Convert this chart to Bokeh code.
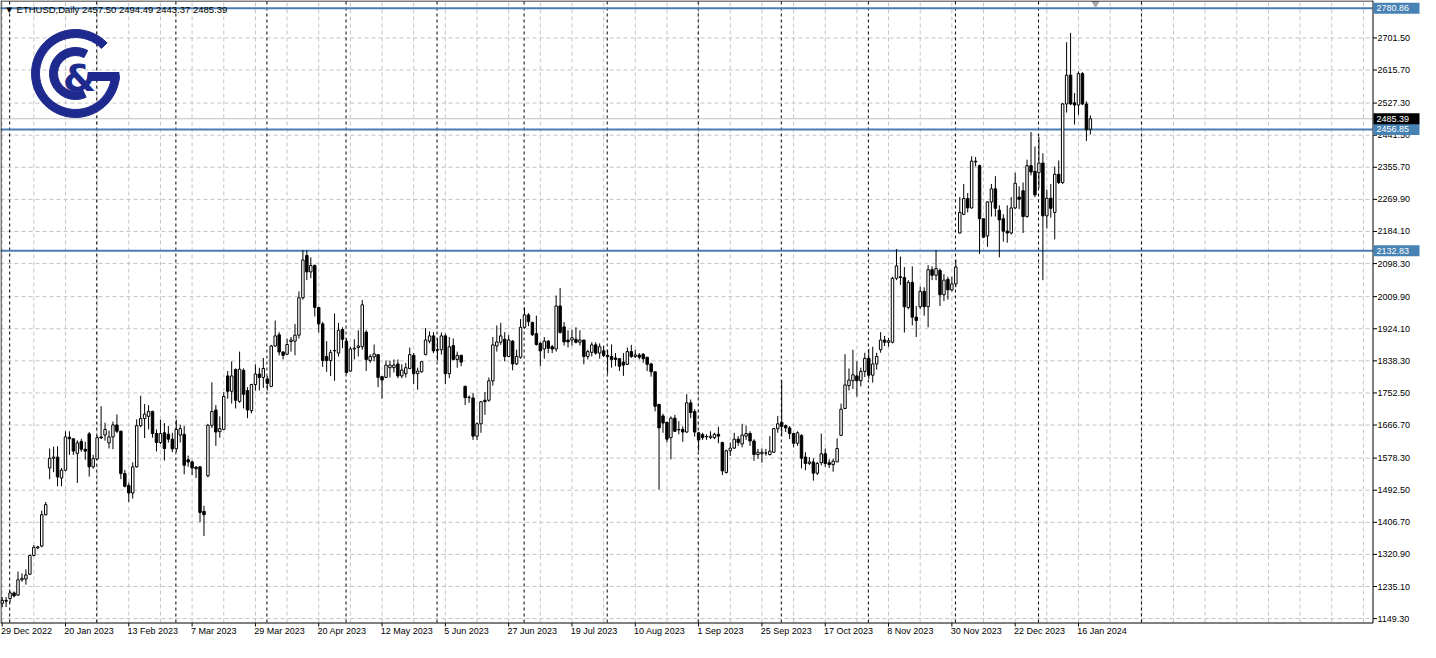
import math
import pandas as pd
from bokeh.plotting import figure
from bokeh.models import Range1d, ColumnDataSource
from bokeh.core.properties import value
from bokeh.embed import file_html
from bokeh.resources import INLINE

symbol = "ETHUSD,Daily"

opens = [
    1190, 1198, 1203, 1218, 1212, 1253, 1255, 1268, 1318, 1338,
    1343, 1427, 1552, 1578, 1581, 1525, 1546, 1634, 1630, 1591,
    1623, 1602, 1643, 1555, 1576, 1635, 1640, 1619, 1635, 1667,
    1650, 1537, 1505, 1485, 1555, 1665, 1684, 1690, 1703, 1644,
    1620, 1646, 1642, 1629, 1603, 1640, 1642, 1574, 1568, 1554,
    1555, 1436, 1531, 1666, 1707, 1649, 1655, 1798, 1757, 1815,
    1730, 1813, 1759, 1705, 1775, 1803, 1794, 1790, 1770, 1878,
    1908, 1862, 1856, 1890, 1891, 1907, 2007, 2120, 2076, 2093,
    1981, 1937, 1850, 1839, 1865, 1859, 1922, 1891, 1811, 1870,
    1874, 1876, 1915, 1839, 1849, 1855, 1796, 1794, 1820, 1820,
    1830, 1798, 1804, 1818, 1853, 1804, 1809, 1855, 1891, 1905,
    1868, 1868, 1905, 1804, 1879, 1842, 1853, 1770, 1741, 1739,
    1637, 1670, 1733, 1733, 1785, 1878, 1888, 1896, 1850, 1891,
    1830, 1848, 1928, 1961, 1941, 1911, 1885, 1870, 1891, 1876,
    1870, 1985, 1929, 1894, 1894, 1896, 1888, 1894, 1850, 1861,
    1881, 1859, 1865, 1853, 1850, 1846, 1844, 1835, 1829, 1863,
    1850, 1854, 1856, 1848, 1830, 1809, 1722, 1691, 1674, 1633,
    1685, 1654, 1655, 1648, 1726, 1703, 1646, 1641, 1636, 1633,
    1633, 1642, 1620, 1540, 1598, 1605, 1629, 1616, 1637, 1644,
    1624, 1588, 1590, 1592, 1588, 1594, 1657, 1674, 1665, 1659,
    1644, 1618, 1639, 1581, 1564, 1568, 1538, 1566, 1590, 1566,
    1561, 1568, 1639, 1711, 1772, 1785, 1798, 1785, 1810, 1845,
    1800, 1830, 1868, 1894, 1888, 1888, 2059, 2063, 2061, 1981,
    2048, 1955, 1983, 2024, 1983, 2082, 2067, 2080, 2015, 2056,
    2028, 2044, 2180, 2230, 2272, 2247, 2370, 2360, 2218, 2172,
    2263, 2298, 2241, 2218, 2185, 2180, 2247, 2276, 2293, 2224,
    2360, 2345, 2341, 2367, 2226, 2273, 2235, 2337, 2315, 2525,
    2602, 2528, 2522, 2606, 2525, 2457.50,
]

highs = [
    1207, 1207, 1223, 1222, 1275, 1270, 1281, 1320, 1346, 1344,
    1438, 1461, 1604, 1609, 1610, 1552, 1650, 1650, 1630, 1626,
    1630, 1622, 1648, 1587, 1639, 1717, 1673, 1652, 1676, 1695,
    1652, 1547, 1513, 1567, 1682, 1745, 1723, 1720, 1705, 1655,
    1681, 1672, 1664, 1646, 1681, 1668, 1664, 1585, 1572, 1557,
    1557, 1451, 1670, 1781, 1720, 1690, 1755, 1811, 1837, 1818,
    1863, 1818, 1768, 1777, 1829, 1820, 1846, 1798, 1881, 1946,
    1915, 1864, 1898, 1902, 1937, 2024, 2134, 2134, 2115, 2096,
    1981, 1942, 1891, 1868, 1965, 1940, 1928, 1898, 1876, 1896,
    1920, 2001, 1920, 1856, 1882, 1856, 1798, 1839, 1839, 1842,
    1842, 1829, 1833, 1874, 1859, 1820, 1837, 1926, 1917, 1915,
    1898, 1914, 1911, 1902, 1898, 1863, 1855, 1772, 1746, 1752,
    1674, 1731, 1755, 1794, 1902, 1933, 1940, 1915, 1907, 1894,
    1868, 1950, 1981, 1966, 1943, 1959, 1889, 1902, 1894, 1881,
    2013, 2033, 1942, 1920, 1922, 1928, 1920, 1894, 1868, 1888,
    1888, 1885, 1879, 1868, 1882, 1859, 1844, 1859, 1874, 1881,
    1868, 1859, 1859, 1848, 1833, 1809, 1722, 1697, 1676, 1690,
    1694, 1677, 1663, 1749, 1735, 1709, 1646, 1646, 1642, 1650,
    1646, 1662, 1622, 1601, 1620, 1646, 1637, 1670, 1665, 1650,
    1629, 1603, 1604, 1603, 1637, 1659, 1691, 1785, 1668, 1664,
    1646, 1650, 1642, 1594, 1581, 1578, 1568, 1644, 1604, 1575,
    1577, 1631, 1724, 1856, 1818, 1868, 1837, 1820, 1860, 1870,
    1876, 1860, 1915, 1905, 1900, 2063, 2137, 2117, 2089, 2054,
    2091, 1985, 2037, 2035, 2094, 2091, 2134, 2085, 2070, 2063,
    2063, 2108, 2276, 2311, 2287, 2385, 2383, 2363, 2220, 2265,
    2311, 2332, 2254, 2230, 2254, 2276, 2341, 2305, 2315, 2376,
    2450, 2411, 2437, 2393, 2296, 2311, 2358, 2374, 2528, 2690,
    2715, 2554, 2612, 2610, 2532, 2494.49,
]

lows = [
    1180, 1180, 1192, 1206, 1210, 1248, 1240, 1266, 1316, 1335,
    1340, 1425, 1522, 1541, 1503, 1503, 1543, 1587, 1587, 1512,
    1595, 1574, 1529, 1550, 1574, 1630, 1625, 1604, 1602, 1645,
    1522, 1500, 1461, 1470, 1553, 1661, 1632, 1655, 1633, 1596,
    1616, 1572, 1620, 1594, 1594, 1620, 1535, 1555, 1533, 1525,
    1407, 1370, 1527, 1659, 1611, 1633, 1653, 1737, 1724, 1711,
    1726, 1711, 1685, 1698, 1759, 1759, 1766, 1759, 1768, 1876,
    1853, 1842, 1854, 1863, 1853, 1898, 2002, 2054, 2059, 1957,
    1914, 1822, 1809, 1798, 1785, 1850, 1872, 1804, 1809, 1842,
    1850, 1868, 1811, 1833, 1837, 1768, 1737, 1792, 1794, 1807,
    1792, 1792, 1794, 1816, 1776, 1761, 1807, 1853, 1885, 1859,
    1839, 1855, 1776, 1792, 1839, 1820, 1824, 1720, 1726, 1627,
    1627, 1646, 1694, 1729, 1772, 1863, 1881, 1837, 1848, 1813,
    1827, 1844, 1924, 1931, 1905, 1879, 1824, 1844, 1859, 1859,
    1863, 1911, 1879, 1874, 1879, 1885, 1879, 1829, 1842, 1850,
    1855, 1844, 1848, 1804, 1820, 1824, 1811, 1798, 1827, 1846,
    1846, 1842, 1833, 1811, 1796, 1703, 1494, 1646, 1620, 1575,
    1648, 1642, 1622, 1646, 1685, 1636, 1598, 1627, 1627, 1629,
    1629, 1618, 1533, 1537, 1584, 1603, 1611, 1607, 1627, 1611,
    1571, 1577, 1566, 1585, 1585, 1592, 1646, 1637, 1648, 1629,
    1607, 1611, 1551, 1546, 1560, 1518, 1533, 1559, 1555, 1552,
    1542, 1568, 1637, 1709, 1759, 1763, 1743, 1770, 1795, 1790,
    1780, 1815, 1860, 1878, 1876, 1885, 2054, 2041, 1914, 1976,
    1933, 1902, 1976, 1959, 1928, 2054, 2054, 1985, 1998, 2002,
    2024, 2035, 2179, 2228, 2235, 2245, 2358, 2124, 2166, 2143,
    2224, 2224, 2115, 2157, 2154, 2176, 2244, 2244, 2180, 2221,
    2334, 2276, 2300, 2054, 2193, 2221, 2163, 2311, 2311, 2502,
    2522, 2470, 2496, 2522, 2426, 2443.37,
]

closes = [
    1198, 1196, 1218, 1210, 1253, 1257, 1266, 1318, 1340, 1341,
    1427, 1454, 1578, 1581, 1528, 1546, 1635, 1630, 1597, 1619,
    1602, 1597, 1555, 1577, 1633, 1632, 1655, 1635, 1667, 1650,
    1537, 1503, 1485, 1555, 1665, 1684, 1696, 1703, 1644, 1620,
    1644, 1604, 1629, 1603, 1655, 1657, 1559, 1568, 1552, 1550,
    1433, 1427, 1666, 1703, 1648, 1657, 1743, 1757, 1798, 1733,
    1816, 1749, 1707, 1775, 1803, 1794, 1818, 1778, 1878, 1905,
    1862, 1853, 1882, 1894, 1907, 2007, 2108, 2076, 2093, 1981,
    1937, 1839, 1839, 1861, 1866, 1920, 1896, 1807, 1870, 1872,
    1878, 1988, 1842, 1850, 1857, 1794, 1787, 1827, 1827, 1827,
    1798, 1814, 1820, 1855, 1804, 1811, 1836, 1894, 1905, 1865,
    1867, 1905, 1804, 1876, 1842, 1853, 1835, 1740, 1740, 1637,
    1670, 1729, 1729, 1785, 1881, 1889, 1905, 1850, 1894, 1830,
    1850, 1928, 1961, 1943, 1908, 1882, 1865, 1891, 1872, 1870,
    1985, 1914, 1889, 1889, 1900, 1888, 1894, 1850, 1863, 1881,
    1859, 1876, 1853, 1850, 1842, 1842, 1824, 1827, 1863, 1850,
    1854, 1848, 1844, 1829, 1809, 1717, 1659, 1672, 1629, 1685,
    1650, 1655, 1648, 1726, 1700, 1648, 1627, 1633, 1635, 1637,
    1642, 1637, 1544, 1598, 1605, 1629, 1620, 1640, 1644, 1624,
    1588, 1594, 1594, 1592, 1597, 1657, 1670, 1663, 1659, 1644,
    1618, 1646, 1578, 1564, 1568, 1538, 1564, 1590, 1564, 1561,
    1570, 1604, 1709, 1774, 1787, 1801, 1785, 1810, 1845, 1800,
    1830, 1850, 1894, 1888, 1892, 2059, 2092, 2061, 1983, 2048,
    1955, 1946, 2024, 1983, 2082, 2067, 2085, 2015, 2054, 2028,
    2044, 2089, 2235, 2272, 2247, 2372, 2372, 2218, 2169, 2263,
    2298, 2246, 2215, 2185, 2180, 2247, 2313, 2270, 2224, 2360,
    2343, 2282, 2367, 2226, 2273, 2246, 2337, 2315, 2525, 2602,
    2525, 2522, 2606, 2525, 2456, 2485.39,
]

x_tick_labels = [
    "29 Dec 2022", "20 Jan 2023", "13 Feb 2023", "7 Mar 2023", "29 Mar 2023",
    "20 Apr 2023", "12 May 2023", "5 Jun 2023", "27 Jun 2023", "19 Jul 2023",
    "10 Aug 2023", "1 Sep 2023", "25 Sep 2023", "17 Oct 2023", "8 Nov 2023",
    "30 Nov 2023", "22 Dec 2023", "16 Jan 2024",
]
y_ticks = [1149.30, 1235.10, 1320.90, 1406.70, 1492.50, 1578.30, 1666.70, 1752.50,
           1838.30, 1924.10, 2009.90, 2098.30, 2184.10, 2269.90, 2355.70, 2441.50,
           2527.30, 2615.70, 2701.50]
level_lines = [2780.86, 2456.85, 2132.83]
bid_price = 2485.39

# ---------------------------------------------------------------
n = len(closes)
idx = list(range(n))
dates = pd.bdate_range("2022-12-29", "2024-01-19")
dates = dates[dates != pd.Timestamp("2024-01-15")]
month_starts = [i for i in range(1, n) if dates[i].month != dates[i - 1].month]

W, H = 1420, 642          # canvas
PW, PH = 1372, 622        # price-chart area (top-left anchored)
X0, X1 = -0.42, 346.3     # visible bars in chart area
Y0, Y1 = 1138.9, 2801.5   # visible prices in chart area
bpp = (X1 - X0) / PW
ppp = (Y1 - Y0) / PH

# next month separator in the shifted (future) area, calendar-day extrapolated
last = dates[-1]
nxt = pd.Timestamp(year=last.year, month=last.month, day=1) + pd.offsets.MonthBegin(1)
month_starts.append((n - 1) + (nxt - last).days)


def X(px):
    return X0 + px * bpp


def Y(py):
    return Y1 - py * ppp


FONT = "Liberation Sans"
GRID = "#c4c4c4"
BLUE = "#4a7db1"
BOX = "#4682b4"

p = figure(width=W, height=H, x_range=Range1d(X0, X0 + W * bpp),
           y_range=Range1d(Y1 - H * ppp, Y1), output_backend="svg",
           toolbar_location=None, x_axis_type=None, y_axis_type=None, min_border=0)
p.background_fill_color = "white"
p.border_fill_color = "white"
p.outline_line_color = None

# grid
gx = list(range(0, int(X1) + 1, 8))
p.segment(x0=gx, y0=[Y0] * len(gx), x1=gx, y1=[Y1] * len(gx),
          line_color=GRID, line_dash="4 3", line_width=1)
p.segment(x0=[X0] * len(y_ticks), y0=y_ticks, x1=[X1] * len(y_ticks), y1=y_ticks,
          line_color=GRID, line_dash="4 3", line_width=1)
# month separators
sx = [m - 0.1 for m in month_starts]
p.segment(x0=sx, y0=[Y0] * len(sx), x1=sx, y1=[Y1] * len(sx),
          line_color="black", line_dash="3 3", line_width=1)

# horizontal levels
p.segment(x0=[X0], y0=[bid_price], x1=[X1], y1=[bid_price], line_color="#c0c0c0", line_width=1)
p.segment(x0=[X0] * 3, y0=level_lines, x1=[X1] * 3, y1=level_lines,
          line_color=BLUE, line_width=2)

# candles
p.segment(x0=idx, y0=lows, x1=idx, y1=highs, line_color="black", line_width=1)
upi = [i for i in idx if closes[i] >= opens[i]]
dni = [i for i in idx if closes[i] < opens[i]]
up = ColumnDataSource(dict(x=upi, top=[closes[i] for i in upi], bottom=[opens[i] for i in upi]))
dn = ColumnDataSource(dict(x=dni, top=[opens[i] for i in dni], bottom=[closes[i] for i in dni]))
p.vbar(x="x", top="top", bottom="bottom", width=0.62, source=up,
       fill_color="white", line_color="black", line_width=1)
p.vbar(x="x", top="top", bottom="bottom", width=0.62, source=dn,
       fill_color="black", line_color="black", line_width=1)

# logo
NAVY = "#1f2a8f"
cx, cy = X(75), Y(73)
p.annular_wedge(x=[cx], y=[cy], inner_radius=36, outer_radius=44,
                inner_radius_units="screen", outer_radius_units="screen",
                start_angle=math.radians(44), end_angle=math.radians(-3),
                direction="anticlock", color=NAVY)
p.annular_wedge(x=[cx], y=[cy], inner_radius=18, outer_radius=26,
                inner_radius_units="screen", outer_radius_units="screen",
                start_angle=math.radians(62), end_angle=math.radians(-66),
                direction="anticlock", color=NAVY)
p.rect(x=[X(103)], y=[Y(76)], width=31, height=8,
       width_units="screen", height_units="screen", color=NAVY)
p.text(x=[X(79)], y=[Y(77)], text=["&"], text_font=value("DejaVu Sans"),
       text_font_style="bold", text_font_size="38px", text_color=NAVY,
       text_align="center", text_baseline="middle")

# chart shift marker
p.scatter(x=[X(1095)], y=[Y(3)], marker="inverted_triangle", size=7, color="#a8a8a8")

# title
title_txt = "\u25bc %s  %.2f %.2f %.2f %.2f" % (symbol, opens[-1], highs[-1], lows[-1], closes[-1])
p.text(x=[X(4)], y=[Y(3)], text=[title_txt], text_font=value(FONT), text_font_size="9.5px",
       text_color="black", text_baseline="top", text_align="left")

# frame / axes lines
p.segment(x0=[X(0.5), X(0.5), X(PW + 0.5), X(0)],
          y0=[Y(0), Y(0.5), Y(0), Y(PH + 0.5)],
          x1=[X(0.5), X(PW + 0.5), X(PW + 0.5), X(PW + 0.5)],
          y1=[Y(PH + 0.5), Y(0.5), Y(PH + 0.5), Y(PH + 0.5)],
          line_color="black", line_width=1)

# right price scale
p.segment(x0=[X(PW + 0.5)] * len(y_ticks), y0=y_ticks, x1=[X(PW + 4.5)] * len(y_ticks),
          y1=y_ticks, line_color="black", line_width=1)
p.text(x=[X(PW + 5)] * len(y_ticks), y=y_ticks, text=["%.2f" % v for v in y_ticks],
       text_font=value(FONT), text_font_size="9px", text_color="black",
       text_baseline="middle", text_align="left")

# time scale
xt = [16 * k for k in range(len(x_tick_labels))]
p.segment(x0=xt, y0=[Y(PH + 0.5)] * len(xt), x1=xt, y1=[Y(PH + 4)] * len(xt),
          line_color="black", line_width=1)
p.text(x=[t - 1.2 * bpp for t in xt], y=[Y(PH + 3)] * len(xt), text=x_tick_labels,
       text_font=value(FONT), text_font_size="9px", text_color="black",
       text_baseline="top", text_align="left")

# price boxes on scale
box_prices = level_lines + [bid_price]
box_colors = [BOX] * len(level_lines) + ["black"]
p.rect(x=[X(PW + 24)] * len(box_prices), y=box_prices, width=46, height=11,
       width_units="screen", height_units="screen", fill_color=box_colors, line_color=None)
p.text(x=[X(PW + 4)] * len(box_prices), y=box_prices, text=["%.2f" % v for v in box_prices],
       text_font=value(FONT), text_font_size="9px", text_color="white",
       text_baseline="middle", text_align="left")

open("out.html", "w").write(file_html(p, INLINE, title="ETHUSD Daily"))
